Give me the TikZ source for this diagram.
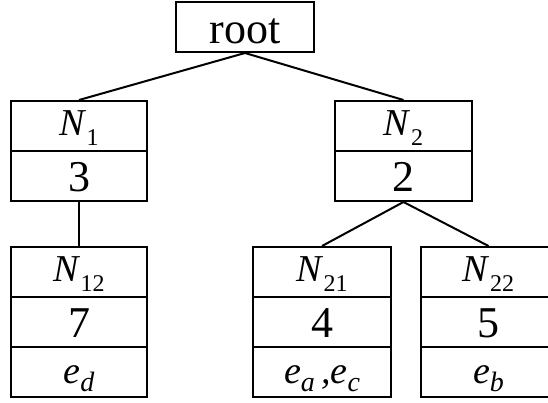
\documentclass[tikz,border=0pt]{standalone}
\usepackage{fontspec}
\setmainfont{Liberation Serif}
\newcommand{\lbl}[1]{\fontsize{38}{38}\selectfont\textit{#1}}
\newcommand{\subd}[1]{\raisebox{-10pt}{\fontsize{24}{24}\selectfont #1}}
\newcommand{\subl}[1]{\raisebox{-8pt}{\fontsize{28}{28}\selectfont\textit{#1}}}
\begin{document}
\begin{tikzpicture}[x=1pt,y=-1pt,
  cell/.style={draw,line width=2pt,inner sep=0pt,minimum height=50pt,minimum width=137pt},
  namecell/.style={cell,text height=34pt,text depth=16pt},
  numcell/.style={cell,text height=40.5pt,text depth=9.5pt,font=\fontsize{44}{44}\selectfont},
  elcell/.style={cell,text height=36pt,text depth=14pt},
  edge/.style={line width=2pt}]
\useasboundingbox (0,0) rectangle (548,402);
\clip (0,0) rectangle (548,402);
% root
\node[cell,minimum width=138pt,text height=41pt,text depth=9pt,font=\fontsize{44}{44}\selectfont] (root) at (245,27) {root};
% N1
\node[namecell,minimum width=136pt] (n1) at (79,126) {\lbl{N}\subd{1}};
\node[numcell,minimum width=136pt] (n1v) at (79,176) {3};
% N2
\node[namecell] (n2) at (403.5,126) {\lbl{N}\subd{2}};
\node[numcell] (n2v) at (403.5,176) {2};
% N12
\node[namecell,minimum width=136pt] (n12) at (79,272) {\lbl{N}\subd{12}};
\node[numcell,minimum width=136pt] (n12v) at (79,322) {7};
\node[elcell,minimum width=136pt] (n12e) at (79,372) {\lbl{e}\subl{d}};
% N21
\node[namecell,minimum width=138pt] (n21) at (322,272) {\lbl{N}\subd{21}};
\node[numcell,minimum width=138pt] (n21v) at (322,322) {4};
\node[elcell,minimum width=138pt] (n21e) at (322,372) {\lbl{e}\subl{a}\lbl{\,,}\lbl{e}\subl{c}};
% N22
\node[namecell,minimum width=135pt] (n22) at (488.5,272) {\lbl{N}\subd{22}};
\node[numcell,minimum width=135pt] (n22v) at (488.5,322) {5};
\node[elcell,minimum width=135pt] (n22e) at (488.5,372) {\lbl{e}\subl{b}};
% connectors
\draw[edge] (root.south) -- (n1.north);
\draw[edge] (root.south) -- (n2.north);
\draw[edge] (n1v.south) -- (n12.north);
\draw[edge] (n2v.south) -- (n21.north);
\draw[edge] (n2v.south) -- (n22.north);
\end{tikzpicture}
\end{document}
